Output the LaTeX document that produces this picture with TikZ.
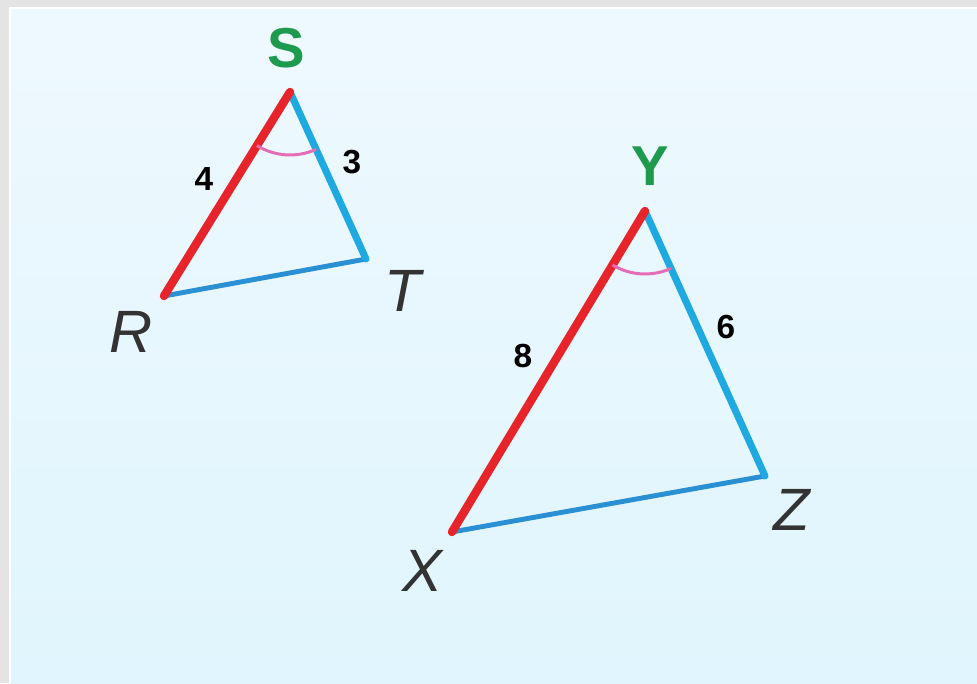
\documentclass[tikz,border=0pt]{standalone}
\usepackage{fontspec}
\setmainfont{Liberation Sans}
\usepackage{tikz}
\usetikzlibrary{angles}
\definecolor{Frame}{HTML}{E4E4E4}
\definecolor{SkyTop}{HTML}{EEF9FE}
\definecolor{SkyBot}{HTML}{E0F5FD}
\definecolor{SideRed}{HTML}{E8242B}
\definecolor{SideBlue}{HTML}{1FA9E1}
\definecolor{BaseBlue}{HTML}{2A90D3}
\definecolor{Mark}{HTML}{E46DB5}
\definecolor{Apex}{HTML}{1E9A4E}
\definecolor{Ink}{HTML}{333333}
\tikzset{
  vlab/.style={font=\fontsize{34}{34}\selectfont\itshape,text=Ink,inner sep=0pt},
  toplab/.style={font=\fontsize{32}{32}\selectfont\bfseries,text=Apex,inner sep=0pt},
  numlab/.style={font=\fontsize{19}{19}\selectfont\bfseries,text=black,inner sep=0pt},
  redside/.style={SideRed,line width=4.8pt,line cap=round},
  blueside/.style={SideBlue,line width=4pt,line cap=round},
  baseside/.style={BaseBlue,line width=2.8pt,line cap=round},
  anglemark/.style={draw=Mark,line width=1.7pt,angle radius=1.26cm},
}

\begin{document}
\begin{tikzpicture}[x=0.02cm,y=-0.02cm]
  \useasboundingbox (0,0) rectangle (977,683);
  \fill[Frame] (0,0) rectangle (977,683);
  \shade[top color=SkyTop,bottom color=SkyBot] (10,8) rectangle (977,683);
  \draw[white,line width=1pt] (10,683) -- (10,8) -- (977,8);
  % small triangle
  \coordinate (S) at (290,92);
  \coordinate (R) at (164,296);
  \coordinate (T) at (366,259);
  % large triangle
  \coordinate (Y) at (645,211);
  \coordinate (X) at (452,532);
  \coordinate (Z) at (765,476);
  \foreach \a/\b/\c in {S/R/T,Y/X/Z} {
    \draw[baseside] (\b) -- (\c);
    \draw[blueside] (\a) -- (\c);
    \draw[redside] (\a) -- (\b);
    \pic[anglemark] {angle=\b--\a--\c};
  }
  \node[toplab] (Slab) at (286,48) {S};
  \node[toplab] (Ylab) at (650,166) {Y};
  \node[vlab] (Rlab) at (131,332) {R};
  \node[vlab] (Tlab) at (403,291) {T};
  \node[vlab] (Xlab) at (422,571) {X};
  \node[vlab] (Zlab) at (792,510) {Z};
  \node[numlab] (RSlen) at (204,179) {4};
  \node[numlab] (STlen) at (352,162) {3};
  \node[numlab] (XYlen) at (523,356) {8};
  \node[numlab] (YZlen) at (726,327) {6};
\end{tikzpicture}
\end{document}
